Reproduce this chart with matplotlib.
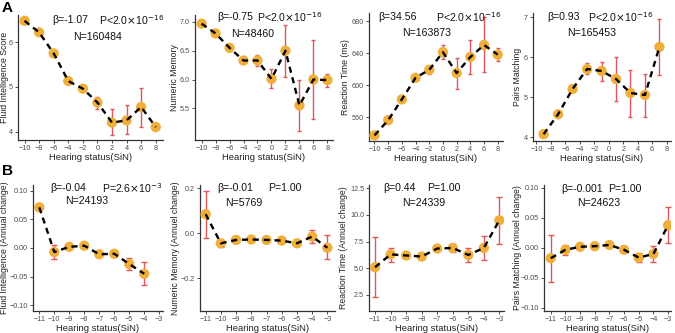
import matplotlib
matplotlib.use("Agg")
import matplotlib.pyplot as plt
import numpy as np

plt.rcParams['font.family'] = ['Liberation Sans', 'DejaVu Sans']

# ---- data ----
# row A: cross-sectional
a_fi_x = [-10, -8, -6, -4, -2, 0, 2, 4, 6, 8]
a_fi_y = [6.48, 6.22, 5.75, 5.13, 4.96, 4.65, 4.20, 4.25, 4.55, 4.10]
a_fi_lo = [6.46, 6.20, 5.73, 5.10, 4.92, 4.50, 3.92, 3.94, 4.10, 4.05]
a_fi_hi = [6.50, 6.24, 5.77, 5.16, 5.00, 4.78, 4.50, 4.60, 4.98, 4.15]

a_nm_x = [-10, -8, -6, -4, -2, 0, 2, 4, 6, 8]
a_nm_y = [6.97, 6.80, 6.55, 6.33, 6.33, 6.01, 6.50, 5.55, 6.00, 5.99]
a_nm_lo = [6.94, 6.77, 6.51, 6.29, 6.23, 5.85, 6.05, 5.10, 5.32, 5.87]
a_nm_hi = [7.00, 6.83, 6.59, 6.37, 6.43, 6.18, 6.95, 6.00, 6.68, 6.10]

a_rt_x = [-10, -8, -6, -4, -2, 0, 2, 4, 6, 8]
a_rt_y = [537, 556, 582, 609, 619, 641, 615, 635, 650, 638]
a_rt_lo = [535, 554, 580, 607, 614, 632, 595, 614, 616, 630]
a_rt_hi = [539, 558, 584, 611, 624, 650, 634, 656, 685, 646]

a_pm_x = [-9, -7, -5, -3, -1, 1, 3, 5, 7]
a_pm_y = [4.07, 4.57, 5.20, 5.70, 5.65, 5.45, 5.10, 5.05, 6.25]
a_pm_lo = [4.04, 4.54, 5.16, 5.57, 5.40, 4.90, 4.50, 4.50, 5.55]
a_pm_hi = [4.10, 4.60, 5.24, 5.85, 5.88, 6.00, 5.67, 5.58, 6.95]

# row B: annual change
b_fi_x = [-11, -10, -9, -8, -7, -6, -5, -4]
b_fi_y = [0.071, -0.007, 0.002, 0.004, -0.011, -0.010, -0.028, -0.045]
b_fi_lo = [0.069, -0.019, 0.000, 0.002, -0.013, -0.016, -0.038, -0.065]
b_fi_hi = [0.073, 0.005, 0.004, 0.006, -0.009, -0.004, -0.017, -0.025]

b_nm_x = [-11, -10, -9, -8, -7, -6, -5, -4, -3]
b_nm_y = [0.085, -0.045, -0.030, -0.028, -0.030, -0.033, -0.045, -0.015, -0.065]
b_nm_lo = [-0.020, -0.060, -0.035, -0.033, -0.035, -0.038, -0.055, -0.045, -0.115]
b_nm_hi = [0.190, -0.030, -0.025, -0.023, -0.025, -0.028, -0.035, 0.015, -0.010]

b_rt_x = [-11, -10, -9, -8, -7, -6, -5, -4, -3]
b_rt_y = [5.1, 6.3, 6.2, 6.1, 6.85, 6.9, 6.25, 6.9, 9.5]
b_rt_lo = [2.3, 5.6, 6.0, 5.9, 6.7, 6.5, 5.6, 5.8, 7.3]
b_rt_hi = [7.9, 6.9, 6.4, 6.3, 7.0, 7.3, 6.9, 8.0, 11.7]

b_pm_x = [-11, -10, -9, -8, -7, -6, -5, -4, -3]
b_pm_y = [-0.017, -0.003, 0.002, 0.003, 0.005, -0.003, -0.016, -0.010, 0.038]
b_pm_lo = [-0.056, -0.011, 0.000, 0.001, 0.003, -0.005, -0.023, -0.024, 0.008]
b_pm_hi = [0.022, 0.005, 0.004, 0.005, 0.007, -0.001, -0.009, 0.004, 0.069]

W, H = 675, 333
fig = plt.figure(figsize=(W / 100, H / 100), dpi=100)

def panel(box, ylab_x, x, y, lo, hi, ylabel, xlim, ylim, xticks, yticks, yfmt, cap):
    l, t, r, b = box
    ax = fig.add_axes([l / W, 1 - b / H, (r - l) / W, (b - t) / H])
    y = np.array(y)
    err = [y - np.array(lo), np.array(hi) - y]
    ax.errorbar(x, y, yerr=err, fmt='none', ecolor='#E0575A', elinewidth=1.0,
                capsize=cap, capthick=1.0, zorder=2)
    ax.scatter(x, y, s=55, color='#F0AE3A', edgecolors='none', zorder=3)
    ax.plot(x, y, color='black', lw=1.7, linestyle=(0, (2.6, 2.0)), zorder=4)
    ax.set_xlim(*xlim)
    ax.set_ylim(*ylim)
    ax.set_xticks(xticks)
    ax.set_xticklabels([str(v).replace('-', '\u2212') for v in xticks])
    ax.set_yticks(yticks)
    ax.set_yticklabels([(yfmt % v).replace('-', '\u2212') for v in yticks])
    for s in ['top', 'right']:
        ax.spines[s].set_visible(False)
    for s in ['left', 'bottom']:
        ax.spines[s].set_linewidth(0.9)
        ax.spines[s].set_color('#333333')
    ax.tick_params(labelsize=5.2, colors='#4D4D4D', length=2, width=0.7, pad=1.5)
    ax.set_xlabel('Hearing status(SiN)', fontsize=6.8, color='#222222', labelpad=1)
    ax.set_ylabel(ylabel, fontsize=6.3, color='#222222')
    ax.yaxis.label.set_verticalalignment('center')
    ax.yaxis.set_label_coords((ylab_x - l) / (r - l), 0.5)
    return ax

def ftext(x, y, s, **kw):
    fig.text(x / W, 1 - y / H, s, va='center', ha='left', fontsize=7.6, color='#111111', **kw)

ev = [-10, -8, -6, -4, -2, 0, 2, 4, 6, 8]
bx = [-11, -10, -9, -8, -7, -6, -5, -4, -3]

panel([18, 15, 163, 140], 5, a_fi_x, a_fi_y, a_fi_lo, a_fi_hi, 'Fluid Intelligence Score',
      (-10.9, 9.0), (3.81, 6.61), ev, [4, 5, 6], '%d', 1.2)
panel([195, 15, 333, 140], 175, a_nm_x, a_nm_y, a_nm_lo, a_nm_hi, 'Numeric Memory',
      (-10.94, 8.8), (4.95, 7.12), ev, [5.5, 6.0, 6.5, 7.0], '%.1f', 1.2)
panel([369, 13, 503, 141], 346, a_rt_x, a_rt_y, a_rt_lo, a_rt_hi, 'Reaction Time (ms)',
      (-10.8, 8.77), (530, 690), ev, [560, 600, 640, 680], '%d', 1.2)
panel([533, 13, 671, 141], 517, a_pm_x, a_pm_y, a_pm_lo, a_pm_hi, 'Pairs Matching',
      (-10.47, 8.6), (3.9, 7.1), ev, [4, 5, 6, 7], '%d', 1.2)

panel([33, 185, 163, 311], 5, b_fi_x, b_fi_y, b_fi_lo, b_fi_hi, 'Fluid Intelligence (Annual change)',
      (-11.42, -2.75), (-0.11, 0.11), bx, [-0.10, -0.05, 0.0, 0.05, 0.10], '%.2f', 2.2)
panel([200, 185, 335, 311], 175, b_nm_x, b_nm_y, b_nm_lo, b_nm_hi, 'Numeric Memory (Annuel change)',
      (-11.37, -2.5), (-0.347, 0.215), bx, [-0.2, 0.0, 0.2], '%.1f', 2.2)
panel([369, 185, 504, 311], 344, b_rt_x, b_rt_y, b_rt_lo, b_rt_hi, 'Reaction Time (Annuel change)',
      (-11.39, -2.7), (1.0, 12.8), bx, [2.5, 5.0, 7.5, 10.0, 12.5], '%.1f', 2.2)
panel([544, 185, 671, 311], 517, b_pm_x, b_pm_y, b_pm_lo, b_pm_hi, 'Pairs Matching (Annuel change)',
      (-11.46, -2.8), (-0.105, 0.105), bx, [-0.10, -0.05, 0.0, 0.05, 0.10], '%.2f', 2.2)

# annotations
ftext(52, 20, '\u03b2=-1.07');  ftext(99, 20, r'P<2.0$\times$10$^{-16}$');  ftext(73, 37, 'N=160484')
ftext(217, 17, '\u03b2=-0.75'); ftext(257, 17, r'P<2.0$\times$10$^{-16}$'); ftext(231, 34, 'N=48460')
ftext(378, 17, '\u03b2=34.56'); ftext(436, 17, r'P<2.0$\times$10$^{-16}$'); ftext(402, 33, 'N=163873')
ftext(547, 17, '\u03b2=0.93');  ftext(588, 17, r'P<2.0$\times$10$^{-16}$'); ftext(567, 33, 'N=165453')
ftext(50, 188, '\u03b2=-0.04'); ftext(102, 188, r'P=2.6$\times$10$^{-3}$');  ftext(65, 201, 'N=24193')
ftext(217, 188, '\u03b2=-0.01'); ftext(268, 188, 'P=1.00');                  ftext(225, 203, 'N=5769')
ftext(383, 188, '\u03b2=0.44'); ftext(427, 188, 'P=1.00');                   ftext(402, 203, 'N=24339')
ftext(561, 189, '\u03b2=-0.001'); ftext(608, 189, 'P=1.00');                 ftext(577, 203, 'N=24623')

fig.text(2 / W, 1 - 8 / H, 'A', fontsize=11, fontweight='bold', va='center', ha='left')
fig.text(2 / W, 1 - 171 / H, 'B', fontsize=11, fontweight='bold', va='center', ha='left')

fig.savefig('out.png', dpi=100)
